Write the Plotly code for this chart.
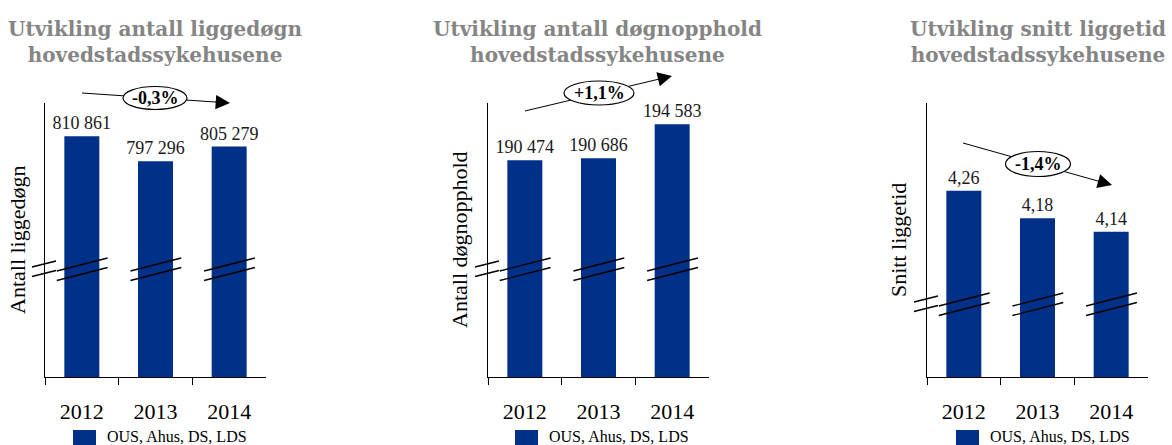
import plotly.graph_objects as go

years = ["2012", "2013", "2014"]
liggedogn = [810861, 797296, 805279]
dognopphold = [190474, 190686, 194583]
liggetid = [4.26, 4.18, 4.14]

titles = ["Utvikling antall liggedøgn<br>hovedstadssykehusene",
          "Utvikling antall døgnopphold<br>hovedstadssykehusene",
          "Utvikling snitt liggetid<br>hovedstadssykehusene"]
ytitles = ["Antall liggedøgn", "Antall døgnopphold", "Snitt liggetid"]
changes = ["-0,3%", "+1,1%", "-1,4%"]
legend_name = "OUS, Ahus, DS, LDS"

W, H = 1172, 445
BLUE = "#003087"
FONT = "Liberation Serif"
TITLE_FONT = "DejaVu Serif"


def px(x):
    return x / W


def py(y):
    return 1 - y / H


# axis left/right in pixels, y range (axis is broken so it does not start at 0)
panels = [
    dict(left=45, right=266, rng=[680000, 829000], fmt="%{y:,.0f}", data=liggedogn,
         title_x=155, ytitle_x=17, brk=271, leg=73,
         arrow=((82, 93), (230, 103)), oval=(155, 98, 64, 23)),
    dict(left=488, right=709, rng=[165700, 197000], fmt="%{y:,.0f}", data=dognopphold,
         title_x=597, ytitle_x=459, brk=271, leg=515,
         arrow=((525, 111), (672, 76)), oval=(599, 93, 70, 24)),
    dict(left=927, right=1148, rng=[3.715, 4.517], fmt="%{y:.2f}", data=liggetid,
         title_x=1038, ytitle_x=898, brk=306, leg=956,
         arrow=((963, 143), (1112, 185)), oval=(1038, 164, 65, 25)),
]

fig = go.Figure()
shapes = []
annotations = []
layout = {}

for i, p in enumerate(panels):
    n = "" if i == 0 else str(i + 1)
    fig.add_trace(go.Bar(
        x=years, y=p["data"], width=0.475, marker_color=BLUE, marker_line_width=0,
        texttemplate=p["fmt"], textposition="outside", cliponaxis=False,
        constraintext="none",
        textfont=dict(family=FONT, size=18, color="#1a1a1a"),
        name=legend_name, xaxis="x" + n, yaxis="y" + n, showlegend=False,
    ))
    layout["xaxis" + n] = dict(
        domain=[px(p["left"]), px(p["right"])], anchor="y" + n, type="category",
        range=[-0.5, 2.5], showline=True, linecolor="black", linewidth=1,
        ticks="outside", ticklen=7, tickcolor="black", tickson="boundaries",
        showgrid=False, ticklabelstandoff=15,
        tickfont=dict(family=FONT, size=22, color="black"),
    )
    layout["yaxis" + n] = dict(
        domain=[py(377), py(103)], anchor="x" + n, range=p["rng"],
        showline=True, linecolor="black", linewidth=1, showticklabels=False,
        ticks="", showgrid=False, zeroline=False,
    )

    # legend key under each panel (plotly's own legend gets pushed up by the page edge)
    lx = p["leg"]
    shapes.append(dict(type="rect", xref="paper", yref="paper",
                       x0=px(lx), x1=px(lx + 23), y0=py(445), y1=py(430),
                       fillcolor=BLUE, line=dict(width=0)))
    annotations.append(dict(
        text=legend_name, x=px(lx + 32), y=py(436), xref="paper", yref="paper",
        showarrow=False, xanchor="left", yanchor="middle",
        font=dict(family=FONT, size=16, color="black"),
    ))

    # titles
    annotations.append(dict(
        text="<b>" + titles[i] + "</b>", x=px(p["title_x"]), y=py(42),
        xref="paper", yref="paper", showarrow=False, xanchor="center", yanchor="middle",
        font=dict(family=TITLE_FONT, size=20, color="#858585"),
    ))
    annotations.append(dict(
        text=ytitles[i], x=px(p["ytitle_x"]), y=py(240), textangle=-90,
        xref="paper", yref="paper", showarrow=False, xanchor="center", yanchor="middle",
        font=dict(family=FONT, size=22, color="black"),
    ))

    # axis break marks
    b = p["brk"]
    ax0 = p["left"]
    for off in (0, 9.5):
        shapes.append(dict(type="line", xref="paper", yref="paper",
                           x0=px(ax0 - 13), y0=py(b - 4 + off),
                           x1=px(ax0 + 11), y1=py(b - 10 + off),
                           line=dict(color="black", width=1.3)))
        for k in range(3):
            shapes.append(dict(type="line", xref="x" + n, yref="paper",
                               x0=k - 0.34, y0=py(b + off), x1=k + 0.35, y1=py(b - 13 + off),
                               line=dict(color="black", width=1.3)))

    # trend arrow with oval label
    (sx, sy), (ex, ey) = p["arrow"]
    shapes.append(dict(type="line", xref="paper", yref="paper",
                       x0=px(sx), y0=py(sy), x1=px(ex - (ex - sx) * 0.06), y1=py(ey - (ey - sy) * 0.06),
                       line=dict(color="black", width=1)))
    cx, cy, w, h = p["oval"]
    shapes.append(dict(type="circle", xref="paper", yref="paper",
                       x0=px(cx - w / 2), x1=px(cx + w / 2), y0=py(cy + h / 2), y1=py(cy - h / 2),
                       fillcolor="white", line=dict(color="black", width=1.2)))
    dx, dy = ex - sx, ey - sy
    L = (dx ** 2 + dy ** 2) ** 0.5
    annotations.append(dict(
        text="", x=px(ex), y=py(ey), xref="paper", yref="paper",
        showarrow=True, arrowhead=2, arrowsize=2.6, arrowwidth=1.1, arrowcolor="black",
        ax=-dx / L * 16, ay=-dy / L * 16,
    ))
    annotations.append(dict(
        text="<b>" + changes[i] + "</b>", x=px(cx), y=py(cy), xref="paper", yref="paper",
        showarrow=False, xanchor="center", yanchor="middle",
        font=dict(family=FONT, size=18, color="black"),
    ))

fig.update_layout(
    width=W, height=H, margin=dict(l=0, r=0, t=0, b=0),
    paper_bgcolor="white", plot_bgcolor="white",
    font=dict(family=FONT, color="black"),
    separators=", ", showlegend=False,
    shapes=shapes, annotations=annotations, **layout,
)
fig.write_html("out.html", config={"displayModeBar": False},
               post_script="document.body.style.margin='0';")
